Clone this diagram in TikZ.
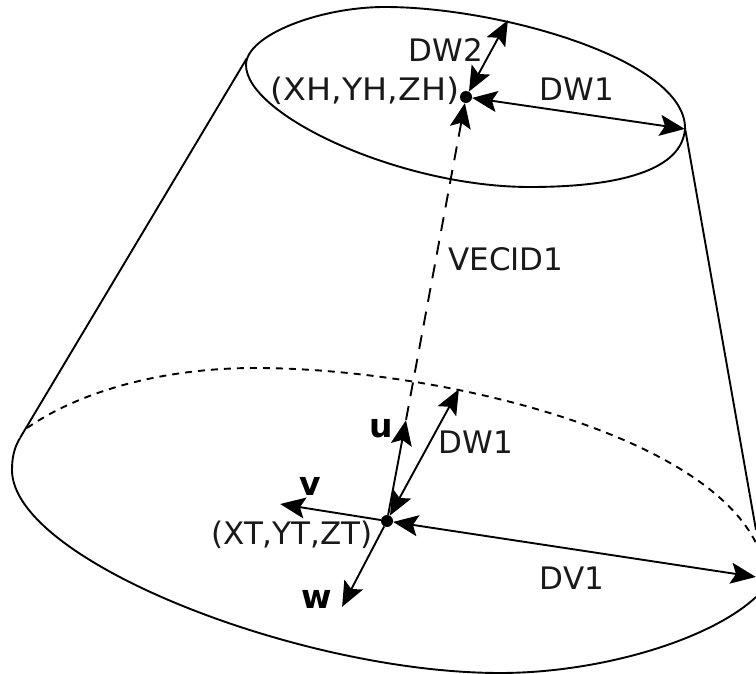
\documentclass[tikz,border=0pt]{standalone}
\usepackage{fontspec}
\setmainfont{DejaVu Sans}
\usetikzlibrary{arrows.meta}
\begin{document}
\begin{tikzpicture}[x=1pt, y=-1pt]
    \useasboundingbox (0,0) rectangle (756,674);
    \begin{scope}
        \tikzstyle{every path}=[line width=1.9pt, line join=round]
        \draw (246,65) .. controls (246,35) and (320,7) .. (385,7)
            .. controls (500,7) and (685,60) .. (685,128)
            .. controls (683,170) and (620,187) .. (530,187)
            .. controls (400,187) and (246,115) .. (246,65) -- cycle;
        \draw (20,438) .. controls (14,448) and (12,458) .. (12,470)
            .. controls (12,560) and (300,673) .. (500,673)
            .. controls (600,673) and (710,640) .. (756,597);
        \draw[dash pattern=on 7pt off 6pt] (27,428) .. controls (85,388) and (170,368) .. (255,368)
            .. controls (430,368) and (700,430) .. (756,543);
    \end{scope}
    \begin{scope}
        \tikzstyle{every node}=[font=\fontsize{31}{34}\selectfont, text=black!90, inner sep=0pt]
        \node (dwtwo) at (446,50) {DW2};
        \node (hublabel) at (365,90.5) {\scalebox{1.075}[1]{(XH,YH,ZH)}};
        \node (dwone) at (577,89) {DW1};
        \node (vecid) at (506,259) {VECID1};
        \node (dwlow) at (476,442) {DW1};
        \node (taillabel) at (292,535) {(XT,YT,ZT)};
        \node (dvone) at (572,578) {DV1};
    \end{scope}
    \begin{scope}
        \tikzstyle{every node}=[font=\fontsize{33}{36}\selectfont\bfseries, text=black, inner sep=0pt]
        \node (ulabel) at (381,429) {u};
        \node (vlabel) at (310,486) {v};
        \node (wlabel) at (317,599) {w};
    \end{scope}
    \begin{scope}
        \tikzstyle{every node}=[fill=black, circle, inner sep=0pt, minimum size=12pt]
        \node (hub) at (466,97) {};
        \node (tail) at (387,521) {};
    \end{scope}
    \begin{scope}
        \tikzstyle{every node}=[inner sep=0pt, minimum size=0pt]
        \node (topleft) at (247,58) {};
        \node (botleft) at (20,438) {};
        \node (topright) at (685,128) {};
        \node (botright) at (756,530) {};
        \node (dwtwoend) at (508,20) {};
        \node (dwoneend) at (685,129) {};
        \node (dwlowend) at (459,389) {};
        \node (dvoneend) at (756,577) {};
        \node (uend) at (406,420) {};
        \node (vend) at (280,504) {};
        \node (wend) at (342,607) {};
    \end{scope}
    \begin{scope}
        \tikzstyle{every edge}=[draw, line width=1.9pt, >={Stealth[length=25pt, width=21pt, inset=5pt]}]
        \path
        (topleft) edge (botleft)
        (topright) edge (botright)
        (hub) edge[<->] (dwtwoend)
        (hub) edge[<->] (dwoneend)
        (tail) edge[<->] (dwlowend)
        (tail) edge[<->] (dvoneend)
        (tail) edge[->] (uend)
        (tail) edge[->] (vend)
        (tail) edge[->] (wend)
        (uend) edge[->, dash pattern=on 14pt off 10pt] (hub);
    \end{scope}
\end{tikzpicture}
\end{document}
